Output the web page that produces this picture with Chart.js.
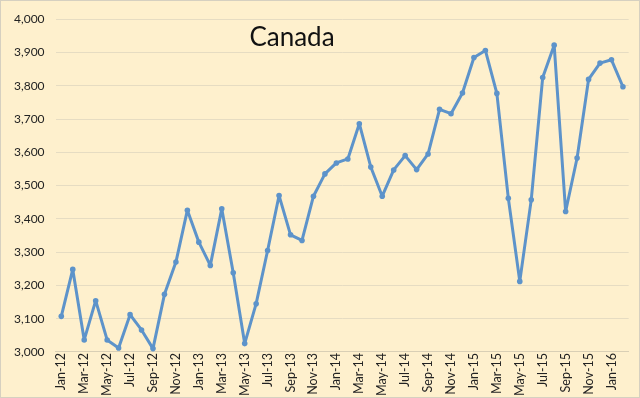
<!DOCTYPE html>
<html>
<head>
<meta charset="utf-8">
<script src="https://cdn.jsdelivr.net/npm/chart.js@4"></script>
<style>
  html, body { margin: 0; padding: 0; background: #fff; }
  #wrap { position: relative; width: 638px; height: 396px; border: 1px solid #d6d0c0; background: #fef0cd; }
</style>
</head>
<body>
<div id="wrap"><canvas id="chart" width="638" height="396"></canvas></div>
<script>
// Monthly values, Jan-12 .. Feb-16
const months = [
  'Jan-12','Feb-12','Mar-12','Apr-12','May-12','Jun-12','Jul-12','Aug-12','Sep-12','Oct-12','Nov-12','Dec-12',
  'Jan-13','Feb-13','Mar-13','Apr-13','May-13','Jun-13','Jul-13','Aug-13','Sep-13','Oct-13','Nov-13','Dec-13',
  'Jan-14','Feb-14','Mar-14','Apr-14','May-14','Jun-14','Jul-14','Aug-14','Sep-14','Oct-14','Nov-14','Dec-14',
  'Jan-15','Feb-15','Mar-15','Apr-15','May-15','Jun-15','Jul-15','Aug-15','Sep-15','Oct-15','Nov-15','Dec-15',
  'Jan-16','Feb-16'
];
const canada = [
  3107, 3248, 3036, 3154, 3036, 3012, 3112, 3066, 3010, 3173, 3270, 3426,
  3330, 3260, 3430, 3238, 3025, 3145, 3305, 3470, 3352, 3335, 3468, 3535,
  3568, 3580, 3686, 3556, 3468, 3547, 3590, 3548, 3595, 3729, 3716, 3778,
  3885, 3906, 3777, 3462, 3212, 3457, 3825, 3922, 3422, 3583, 3819, 3868,
  3878, 3797
];
const yTicks = [3000, 3100, 3200, 3300, 3400, 3500, 3600, 3700, 3800, 3900, 4000];
const titleText = 'Canada';

const FONT = "Lato, 'Open Sans', sans-serif";
const lineColor = '#5d93ca';

// draws the title inside the plot area like the Excel chart
const innerTitle = {
  id: 'innerTitle',
  afterDraw(chart) {
    const ctx = chart.ctx;
    ctx.save();
    ctx.font = "26px " + FONT;
    ctx.fillStyle = '#111';
    ctx.textAlign = 'center';
    ctx.textBaseline = 'middle';
    ctx.fillText(titleText, 291, 37);
    ctx.restore();
  }
};

new Chart(document.getElementById('chart').getContext('2d'), {
  type: 'line',
  data: {
    labels: months,
    datasets: [{
      label: 'Canada',
      data: canada,
      borderColor: lineColor,
      backgroundColor: lineColor,
      borderWidth: 3,
      borderJoinStyle: 'round',
      borderCapStyle: 'round',
      pointRadius: 2.8,
      pointBorderWidth: 0,
      pointBackgroundColor: lineColor,
      tension: 0
    }]
  },
  options: {
    responsive: false,
    animation: false,
    layout: { padding: { left: 2, right: 6, top: 8, bottom: 0 } },
    plugins: { legend: { display: false }, tooltip: { enabled: false } },
    scales: {
      x: {
        offset: true,
        grid: { display: false, drawTicks: false },
        border: { color: '#d9cfb5' },
        ticks: {
          autoSkip: false,
          maxRotation: 90,
          minRotation: 90,
          padding: 1,
          color: '#222',
          font: { family: FONT, size: 12.5 },
          callback: (v, i) => (i % 2 === 0 ? months[i] : '')
        }
      },
      y: {
        min: 3000,
        max: 4000,
        afterBuildTicks: (axis) => { axis.ticks = yTicks.map(v => ({ value: v })); },
        grid: { color: '#e6dcc2', lineWidth: 1, drawTicks: false },
        border: { display: false },
        ticks: {
          padding: 11,
          color: '#222',
          font: { family: FONT, size: 12 },
          callback: (v) => v.toLocaleString('en-US')
        }
      }
    }
  },
  plugins: [innerTitle]
});
</script>
</body>
</html>
